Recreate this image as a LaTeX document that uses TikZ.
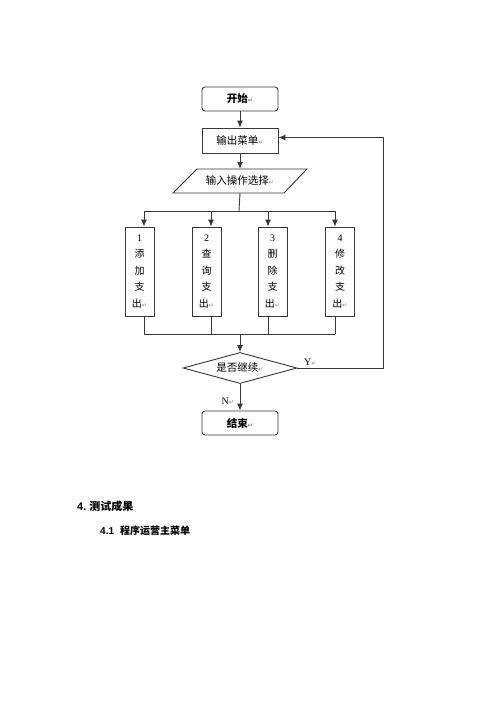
\documentclass[tikz,border=0pt]{standalone}
\usepackage{fontspec}
\setmainfont{Liberation Serif}
\newfontfamily\cjk{Noto Sans CJK SC}
\newfontfamily\hsans{Liberation Sans}
\newfontfamily\symf{DejaVu Sans}
\usetikzlibrary{arrows.meta,shapes.geometric}
\newcommand{\parmark}{{\symf\fontsize{6}{6}\selectfont\color{gray}↵}}
\definecolor{ln}{HTML}{383838}
\begin{document}
\begin{tikzpicture}[x=1pt,y=-1pt,
  conn/.style={line width=0.9pt, draw=ln},
  arr/.style={conn, -{Latex[length=7pt,width=6pt]}},
  rbox/.style={draw=ln, line width=0.9pt, rounded corners=3pt, minimum width=76pt, minimum height=24pt, inner sep=0pt, font=\cjk\fontsize{10.5}{12}\selectfont\bfseries},
  pbox/.style={draw=ln, line width=0.9pt, minimum width=76pt, minimum height=25pt, inner sep=0pt, font=\cjk\fontsize{10.5}{12}\selectfont},
  vbox/.style={draw=ln, line width=0.9pt, minimum width=29pt, minimum height=89pt, inner sep=0pt, align=center, font=\cjk\fontsize{10}{16.5}\selectfont},
  dec/.style={draw=ln, line width=0.9pt, diamond, aspect=3.6, minimum width=114pt, minimum height=31pt, inner sep=0pt, font=\cjk\fontsize{10.5}{12}\selectfont},
  lab/.style={font=\fontsize{10}{12}\selectfont, inner sep=0pt}
]
\fill[white] (0,0) rectangle (500,707);
\useasboundingbox (0,0) rectangle (500,707);

\node[rbox] (start) at (240,99) {开始\parmark};
\node[pbox] (menu) at (240,140.5) {输出菜单\parmark};
\node[minimum width=110pt, minimum height=24pt, inner sep=0pt, font=\cjk\fontsize{10.5}{12}\selectfont] (input) at (240,181) {输入操作选择\parmark};
\draw[conn] (173,193) -- (197,169) -- (307,169) -- (284,193) -- cycle;

\node[vbox] (b1) at (139.5,271.5) {{\rmfamily 1}\\添\\加\\支\\出\parmark};
\node[vbox] (b2) at (206.5,271.5) {{\rmfamily 2}\\查\\询\\支\\出\parmark};
\node[vbox] (b3) at (272.5,271.5) {{\rmfamily 3}\\删\\除\\支\\出\parmark};
\node[vbox] (b4) at (340,271.5) {{\rmfamily 4}\\修\\改\\支\\出\parmark};

\node[dec] (dec) at (240,368) {是否继续\parmark};
\node[rbox] (end) at (240,423) {结束\parmark};

\node[lab, anchor=west] (ylab) at (304,362) {Y\parmark};
\node[lab, anchor=east] (nlab) at (234,401) {N\parmark};

\coordinate (bt) at (239,211);
\coordinate (t1) at (144,211);
\coordinate (t2) at (211,211);
\coordinate (t3) at (268,211);
\coordinate (t4) at (335,211);
\coordinate (u1) at (144,334);
\coordinate (u2) at (211,334);
\coordinate (u3) at (268,334);
\coordinate (u4) at (335,334);
\coordinate (uc) at (240,334);
\coordinate (lp) at (383,368);

\draw[arr] (start) -- (menu);
\draw[arr] (menu) -- (input);
\draw[conn] (input.south) -- (bt);
\draw[conn] (t1) -- (t4);
\draw[arr] (t1) -- (t1 |- b1.north);
\draw[arr] (t2) -- (t2 |- b2.north);
\draw[arr] (t3) -- (t3 |- b3.north);
\draw[arr] (t4) -- (t4 |- b4.north);
\draw[conn] (u1 |- b1.south) -- (u1);
\draw[conn] (u2 |- b2.south) -- (u2);
\draw[conn] (u3 |- b3.south) -- (u3);
\draw[conn] (u4 |- b4.south) -- (u4);
\draw[conn] (u1) -- (u4);
\draw[arr] (uc) -- (dec.north);
\draw[arr] (dec.south) -- (end.north);
\draw[arr] (dec.east) -- (lp) |- ([yshift=3pt]menu.east);

\node[anchor=west, inner sep=0pt, font=\fontsize{11}{13}\selectfont\bfseries] (h1) at (77,506) {{\hsans 4.}\hspace{3pt}{\cjk 测试成果}};
\node[anchor=west, inner sep=0pt, font=\fontsize{10}{12}\selectfont\bfseries] (h2) at (100,531) {{\hsans 4.1}\hspace{6pt}{\cjk 程序运营主菜单}};
\end{tikzpicture}
\end{document}
